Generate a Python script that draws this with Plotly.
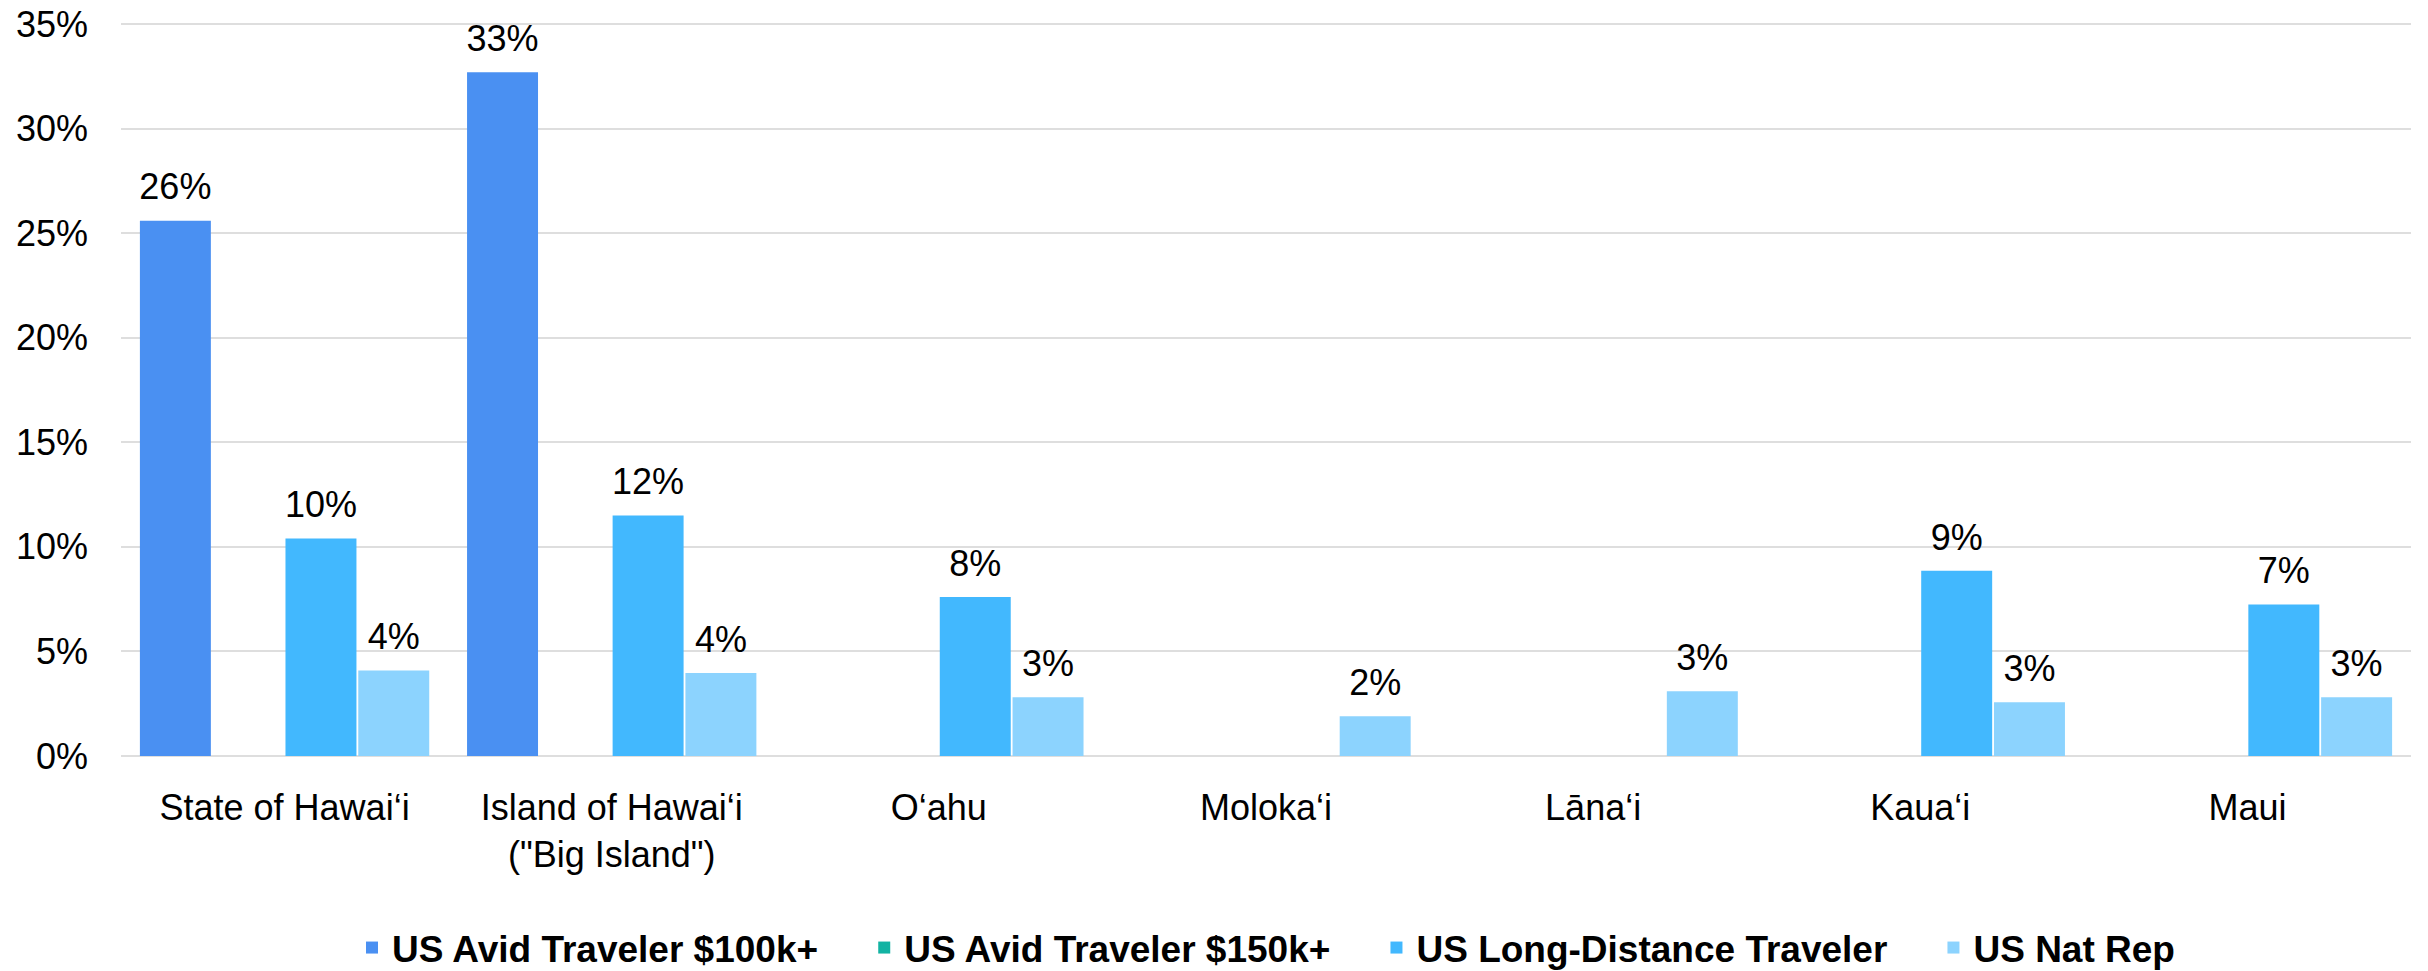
import plotly.graph_objects as go

categories = ["State of Hawai‘i", "Island of Hawai‘i<br>(\"Big Island\")", "O‘ahu",
              "Moloka‘i", "Lāna‘i", "Kaua‘i", "Maui"]

series_names = ["US Avid Traveler $100k+", "US Avid Traveler $150k+",
                "US Long-Distance Traveler", "US Nat Rep"]

avid_100k = [25.6, 32.7, None, None, None, None, None]
avid_150k = [None, None, None, None, None, None, None]
long_distance = [10.4, 11.5, 7.6, None, None, 8.85, 7.24]
nat_rep = [4.09, 3.96, 2.8, 1.9, 3.09, 2.57, 2.81]

colors = ["#4A90F2", "#13B3A3", "#42B8FE", "#8CD3FE"]

y_ticks = [0, 5, 10, 15, 20, 25, 30, 35]
y_tick_labels = ["0%", "5%", "10%", "15%", "20%", "25%", "30%", "35%"]

FONT = "Liberation Sans, Arial, sans-serif"
NBSP = "\u00a0"

all_series = [avid_100k, avid_150k, long_distance, nat_rep]

fig = go.Figure()
for i, (name, vals, col) in enumerate(zip(series_names, all_series, colors)):
    legend_name = name + (NBSP * 4 if i < len(series_names) - 1 else "")
    fig.add_trace(go.Bar(
        name=legend_name, x=categories, y=vals,
        marker=dict(color=col, line=dict(width=0)),
        hoverinfo="skip",
    ))

# value labels, grouped the same way as the bars
for name, vals in zip(series_names, all_series):
    fig.add_trace(go.Scatter(
        x=categories, y=vals, mode="markers+text",
        marker=dict(size=18, color="rgba(0,0,0,0)"),
        texttemplate="%{y:.0f}%", textposition="top center",
        textfont=dict(size=36, color="#000000", family=FONT),
        showlegend=False, hoverinfo="skip", cliponaxis=False,
    ))

W, H = 2428, 971

fig.update_layout(
    template="none",
    width=W, height=H,
    margin=dict(l=121, r=17, t=22, b=213, autoexpand=False),
    paper_bgcolor="white", plot_bgcolor="white",
    barmode="group", bargap=0.11, bargroupgap=0.025,
    scattermode="group", scattergap=0.11,
    font=dict(family=FONT, size=36, color="#000000"),
    showlegend=True,
    legend=dict(orientation="h", x=0.5, xanchor="center",
                yref="container", y=1 - 948 / H, yanchor="middle",
                font=dict(size=37, family=FONT, weight="bold", color="#000000"),
                bgcolor="rgba(0,0,0,0)", borderwidth=0,
                itemclick=False, traceorder="normal"),
    xaxis=dict(automargin=False, showgrid=False, showline=False, zeroline=False,
               ticks="", tickfont=dict(size=36), ticklabelstandoff=25),
    yaxis=dict(automargin=False, range=[-0.1, 35.1], tickmode="array",
               tickvals=y_ticks, ticktext=y_tick_labels, ticklabeloverflow="allow",
               showgrid=True, gridcolor="#DEDEDE", gridwidth=2,
               zeroline=False, showline=False, ticks="", tickfont=dict(size=36),
               ticklabelstandoff=32),
)

fig.write_html("out.html", config={"displayModeBar": False},
               post_script="document.body.style.margin='0px';")
